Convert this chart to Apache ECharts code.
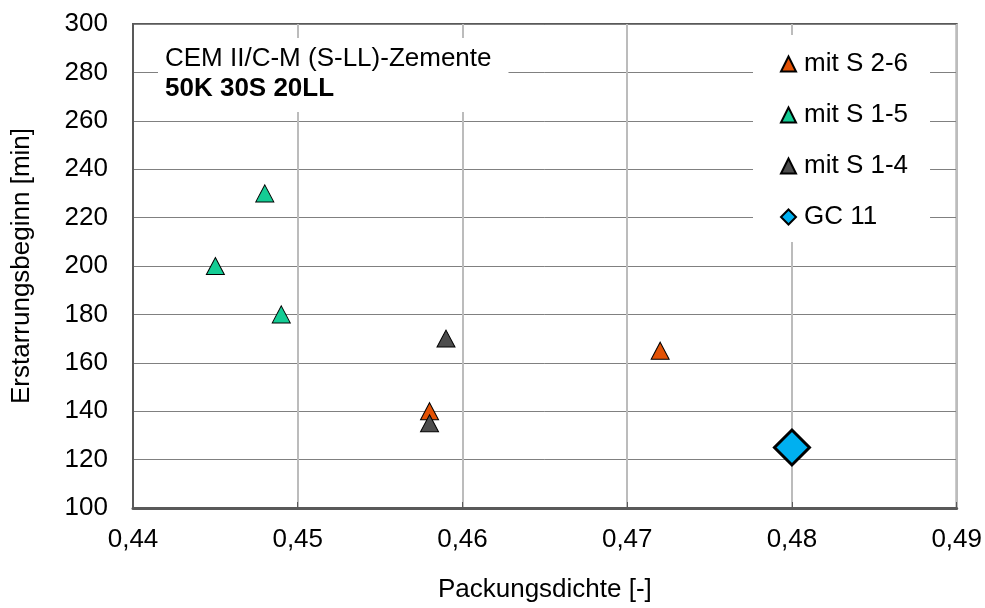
<!DOCTYPE html>
<html>
<head>
<meta charset="utf-8">
<script src="https://cdn.jsdelivr.net/npm/echarts@6/dist/echarts.min.js"></script>
<style>
  html, body { margin: 0; padding: 0; background: #ffffff; }
  #chart { width: 985px; height: 608px; }
</style>
</head>
<body>
<div id="chart"></div>
<script>
// Packungsdichte [-] vs. Erstarrungsbeginn [min]
const seriesNames = ['mit S 2-6', 'mit S 1-5', 'mit S 1-4', 'GC 11'];
const sMit26 = [[0.458, 140], [0.472, 165]];
const sMit15 = [[0.445, 200], [0.448, 230], [0.449, 180]];
const sMit14 = [[0.459, 170], [0.458, 135]];
const sGC11 = [[0.480, 125]];
const xTicks = [0.44, 0.45, 0.46, 0.47, 0.48, 0.49];
const yTicks = [100, 120, 140, 160, 180, 200, 220, 240, 260, 280, 300];
const titleLine1 = 'CEM II/C-M (S-LL)-Zemente';
const titleLine2 = '50K 30S 20LL';

const FONT = '"Liberation Sans", Arial, sans-serif';
const FS = 26;

const chart = echarts.init(document.getElementById('chart'), null, { renderer: 'canvas' });

function triSeries(name, data, color) {
  return {
    name: name,
    type: 'scatter',
    data: data,
    symbol: 'triangle',
    symbolSize: [18, 17],
    itemStyle: { color: color, borderColor: '#000000', borderWidth: 1, opacity: 1 },
    z: 5
  };
}

const option = {
  animation: false,
  backgroundColor: '#ffffff',
  textStyle: { fontFamily: FONT },
  grid: {
    left: 133, right: 27, top: 24, bottom: 97,
    show: true, borderColor: '#595959', borderWidth: 2, backgroundColor: 'transparent'
  },
  title: {
    text: titleLine1,
    subtext: titleLine2,
    left: 158, top: 38,
    padding: [8, 17, 10, 7],
    itemGap: 4,
    backgroundColor: '#ffffff',
    textStyle: { fontFamily: FONT, fontSize: FS, fontWeight: 'normal', color: '#000000', lineHeight: 26 },
    subtextStyle: { fontFamily: FONT, fontSize: FS, fontWeight: 'bold', color: '#000000', lineHeight: 26 }
  },
  legend: {
    data: seriesNames,
    orient: 'vertical',
    left: 753, top: 35,
    padding: [16, 22, 12, 27],
    backgroundColor: '#ffffff',
    itemWidth: 15, itemHeight: 15,
    itemGap: 25,
    textStyle: { fontFamily: FONT, fontSize: FS, color: '#000000', padding: [0, 0, 0, 3], lineHeight: 26 }
  },
  xAxis: {
    type: 'value',
    min: xTicks[0], max: xTicks[xTicks.length - 1], interval: 0.01,
    name: 'Packungsdichte [-]',
    nameLocation: 'middle', nameGap: 69,
    nameTextStyle: { fontFamily: FONT, fontSize: FS, color: '#000000' },
    axisLine: { show: true, onZero: false, lineStyle: { color: '#595959', width: 3 } },
    axisTick: { show: true, inside: true, length: 6, lineStyle: { color: '#595959', width: 1 } },
    axisLabel: {
      margin: 19, fontFamily: FONT, fontSize: FS, color: '#000000',
      formatter: v => v.toFixed(2).replace('.', ',')
    },
    splitLine: { show: true, lineStyle: { color: '#bcbcbc', width: 2 } }
  },
  yAxis: {
    type: 'value',
    min: yTicks[0], max: yTicks[yTicks.length - 1], interval: 20,
    name: 'Erstarrungsbeginn [min]',
    nameLocation: 'middle', nameGap: 98, nameRotate: 90,
    nameTextStyle: { fontFamily: FONT, fontSize: FS, color: '#000000' },
    axisLine: { show: true, lineStyle: { color: '#595959', width: 2 } },
    axisTick: { show: false },
    axisLabel: { margin: 25, fontFamily: FONT, fontSize: FS, color: '#000000' },
    splitLine: { show: true, lineStyle: { color: '#808080', width: 1 } }
  },
  series: [
    triSeries(seriesNames[0], sMit26, '#e35205'),
    triSeries(seriesNames[1], sMit15, '#14cc94'),
    triSeries(seriesNames[2], sMit14, '#4d4d4d'),
    {
      name: seriesNames[3],
      type: 'scatter',
      data: sGC11,
      symbol: 'diamond',
      symbolSize: 35,
      itemStyle: { color: '#00b0f0', borderColor: '#000000', borderWidth: 3, opacity: 1 },
      z: 6
    }
  ]
};

chart.setOption(option);
</script>
</body>
</html>
